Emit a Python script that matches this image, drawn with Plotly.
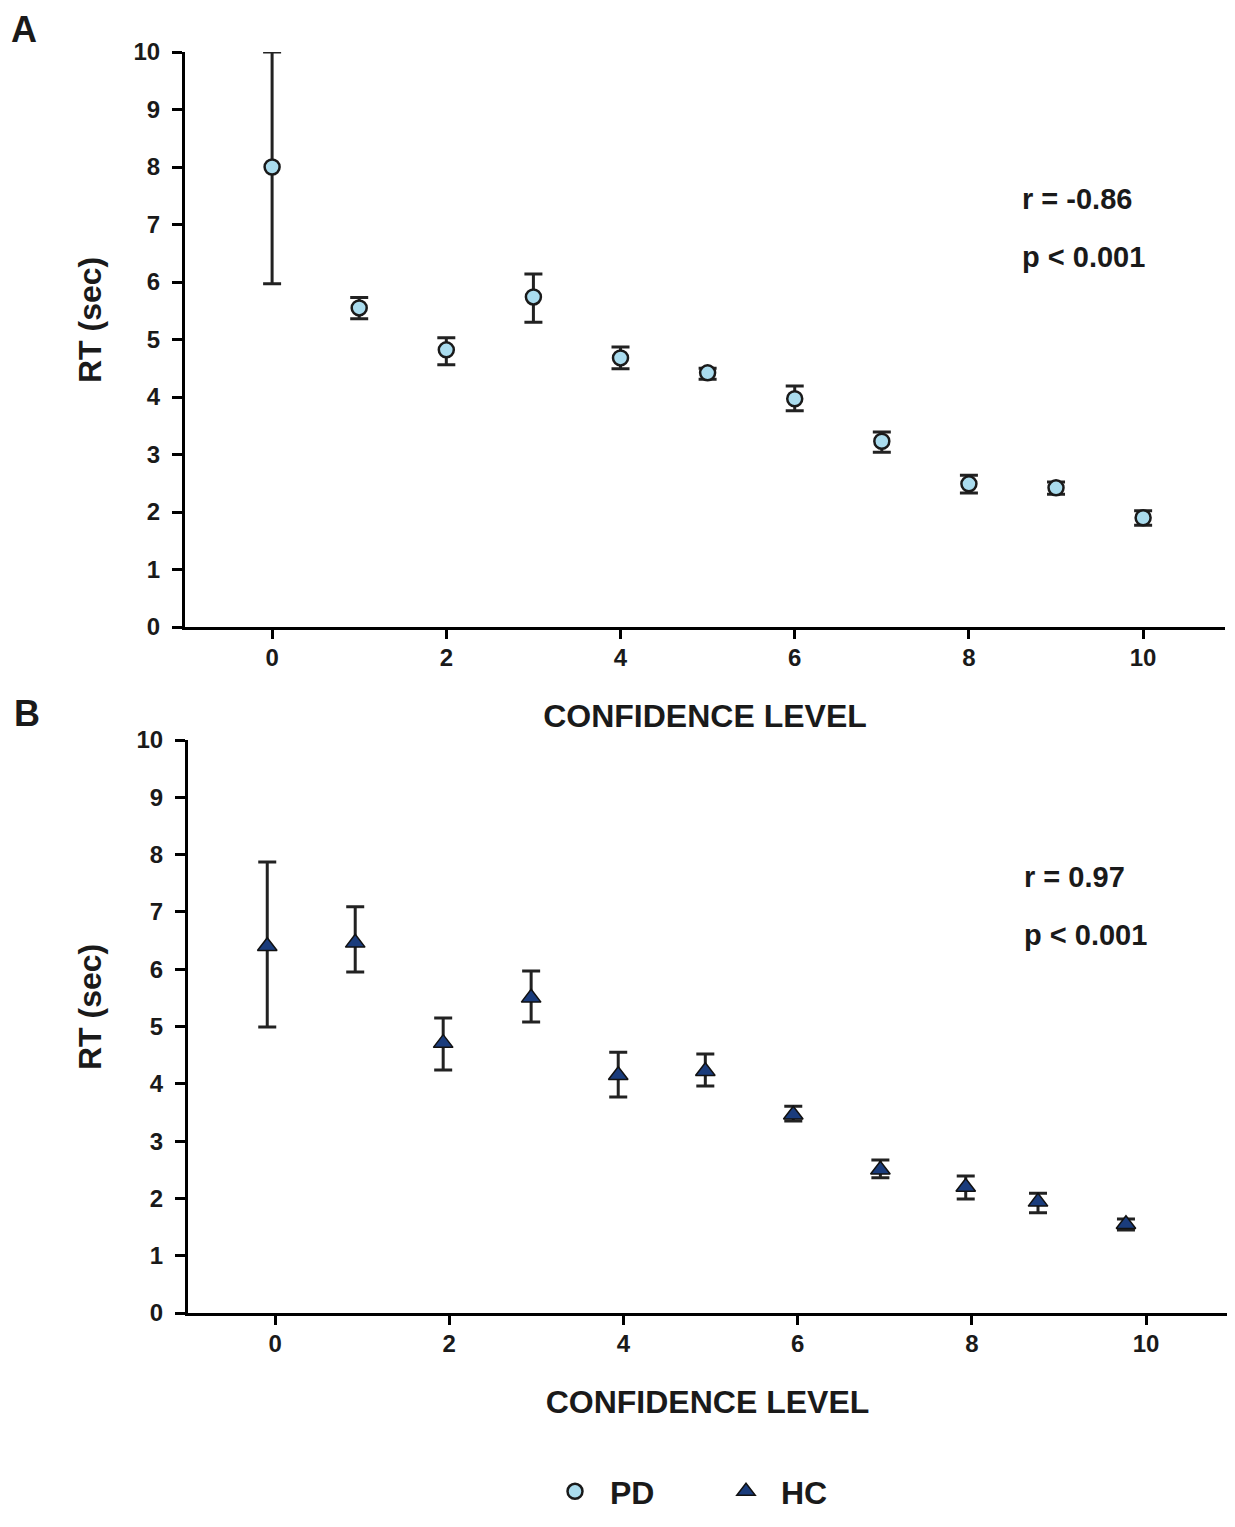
import plotly.graph_objects as go

# ---------------- data ----------------
pd_conf = [0, 1, 2, 3, 4, 5, 6, 7, 8, 9, 10]
pd_rt = [8.00, 5.55, 4.82, 5.74, 4.68, 4.42, 3.97, 3.23, 2.49, 2.42, 1.90]
pd_err_up = [2.00, 0.18, 0.21, 0.40, 0.19, 0.08, 0.22, 0.16, 0.15, 0.10, 0.12]
pd_err_down = [2.03, 0.19, 0.26, 0.44, 0.19, 0.11, 0.21, 0.19, 0.16, 0.11, 0.13]

hc_conf = [-0.09, 0.92, 1.93, 2.94, 3.94, 4.94, 5.95, 6.95, 7.93, 8.76, 9.77]
hc_rt = [6.40, 6.46, 4.71, 5.50, 4.15, 4.22, 3.46, 2.50, 2.20, 1.94, 1.55]
hc_err_up = [1.47, 0.63, 0.44, 0.47, 0.40, 0.30, 0.15, 0.17, 0.19, 0.15, 0.09]
hc_err_down = [1.41, 0.51, 0.47, 0.42, 0.38, 0.26, 0.11, 0.14, 0.21, 0.19, 0.10]

x_ticks = [0, 2, 4, 6, 8, 10]
y_ticks = [0, 1, 2, 3, 4, 5, 6, 7, 8, 9, 10]

stats_a = ["r = -0.86", "p < 0.001"]
stats_b = ["r = 0.97", "p < 0.001"]

FONT = "Liberation Sans, Arial, Helvetica, sans-serif"
TXT = "#1a1a1a"
OFF = 8  # default page body margin
W, H = 1235 - 2 * OFF, 1527 - 2 * OFF

fig = go.Figure()

err_style = dict(type="data", symmetric=False, color="#222222", thickness=3, width=9)

fig.add_trace(go.Scatter(
    x=pd_conf, y=pd_rt, mode="markers", name="PD",
    marker=dict(symbol="circle", size=15, color="#aadcee",
                line=dict(color="#1a1a1a", width=2.5)),
    error_y=dict(array=pd_err_up, arrayminus=pd_err_down, **err_style),
    xaxis="x", yaxis="y",
))
fig.add_trace(go.Scatter(
    x=hc_conf, y=hc_rt, mode="markers", name="HC",
    marker=dict(symbol="triangle-up", size=17, color="#1a3c7c",
                line=dict(color="#111111", width=1.5)),
    error_y=dict(array=hc_err_up, arrayminus=hc_err_down, **err_style),
    xaxis="x2", yaxis="y2",
))


def px_x(p):
    return (p - OFF) / W


def px_y(p):
    return 1 - (p - OFF) / H


axis_common = dict(
    showline=True, linecolor="black", linewidth=3,
    ticks="outside", tickcolor="black", tickwidth=3,
    showgrid=False, zeroline=False,
    tickfont=dict(family=FONT, size=24, color=TXT, weight="bold"),
)

xa = dict(axis_common, range=[-1.0, 10.94], tickvals=x_ticks, ticklen=9,
          ticklabelstandoff=-2,
          title=dict(text="CONFIDENCE LEVEL", standoff=35,
                     font=dict(family=FONT, size=32, color=TXT, weight="bold")))
ya = dict(axis_common, range=[0, 10], tickvals=y_ticks, ticklen=10,
          ticklabelstandoff=7)

fig.update_layout(
    width=W, height=H,
    margin=dict(l=0, r=0, t=0, b=0, autoexpand=False),
    paper_bgcolor="white", plot_bgcolor="white",
    font=dict(family=FONT, color=TXT),
    xaxis=dict(xa, domain=[px_x(185), px_x(1225)], anchor="y"),
    yaxis=dict(ya, domain=[px_y(627), px_y(52)], anchor="x"),
    xaxis2=dict(xa, domain=[px_x(188), px_x(1227)], anchor="y2",
                range=[-1.0, 10.93]),
    yaxis2=dict(ya, domain=[px_y(1313), px_y(740)], anchor="x2"),
    showlegend=True,
    legend=dict(orientation="h", x=px_x(540), xanchor="left",
                y=0.0, yanchor="bottom",
                font=dict(family=FONT, size=32, color=TXT, weight="bold"),
                itemwidth=60,
                entrywidth=96, entrywidthmode="pixels",
                itemsizing="trace"),
)

annotations = []
# panel letters
annotations.append(dict(text="A", x=px_x(10), y=1.0, xref="paper", yref="paper",
                        xanchor="left", yanchor="top", showarrow=False, borderpad=0,
                        font=dict(family=FONT, size=36, color=TXT, weight="bold")))
annotations.append(dict(text="B", x=px_x(13), y=px_y(713), xref="paper", yref="paper",
                        xanchor="left", yanchor="middle", showarrow=False, borderpad=0,
                        font=dict(family=FONT, size=36, color=TXT, weight="bold")))
# y-axis titles
for py in [320, 1007]:
    annotations.append(dict(text="RT (sec)", x=px_x(90), y=px_y(py), xref="paper", yref="paper",
                            xanchor="center", yanchor="middle", showarrow=False, textangle=-90,
                            font=dict(family=FONT, size=32, color=TXT, weight="bold")))
for txt, py in zip(stats_a, [199, 257]):
    annotations.append(dict(text=txt, x=px_x(1020), y=px_y(py), xref="paper", yref="paper",
                            xanchor="left", yanchor="middle", showarrow=False,
                            font=dict(family=FONT, size=29, color=TXT, weight="bold")))
for txt, py in zip(stats_b, [877, 935]):
    annotations.append(dict(text=txt, x=px_x(1022), y=px_y(py), xref="paper", yref="paper",
                            xanchor="left", yanchor="middle", showarrow=False,
                            font=dict(family=FONT, size=29, color=TXT, weight="bold")))
fig.update_layout(annotations=annotations)

fig.write_html("out.html")
